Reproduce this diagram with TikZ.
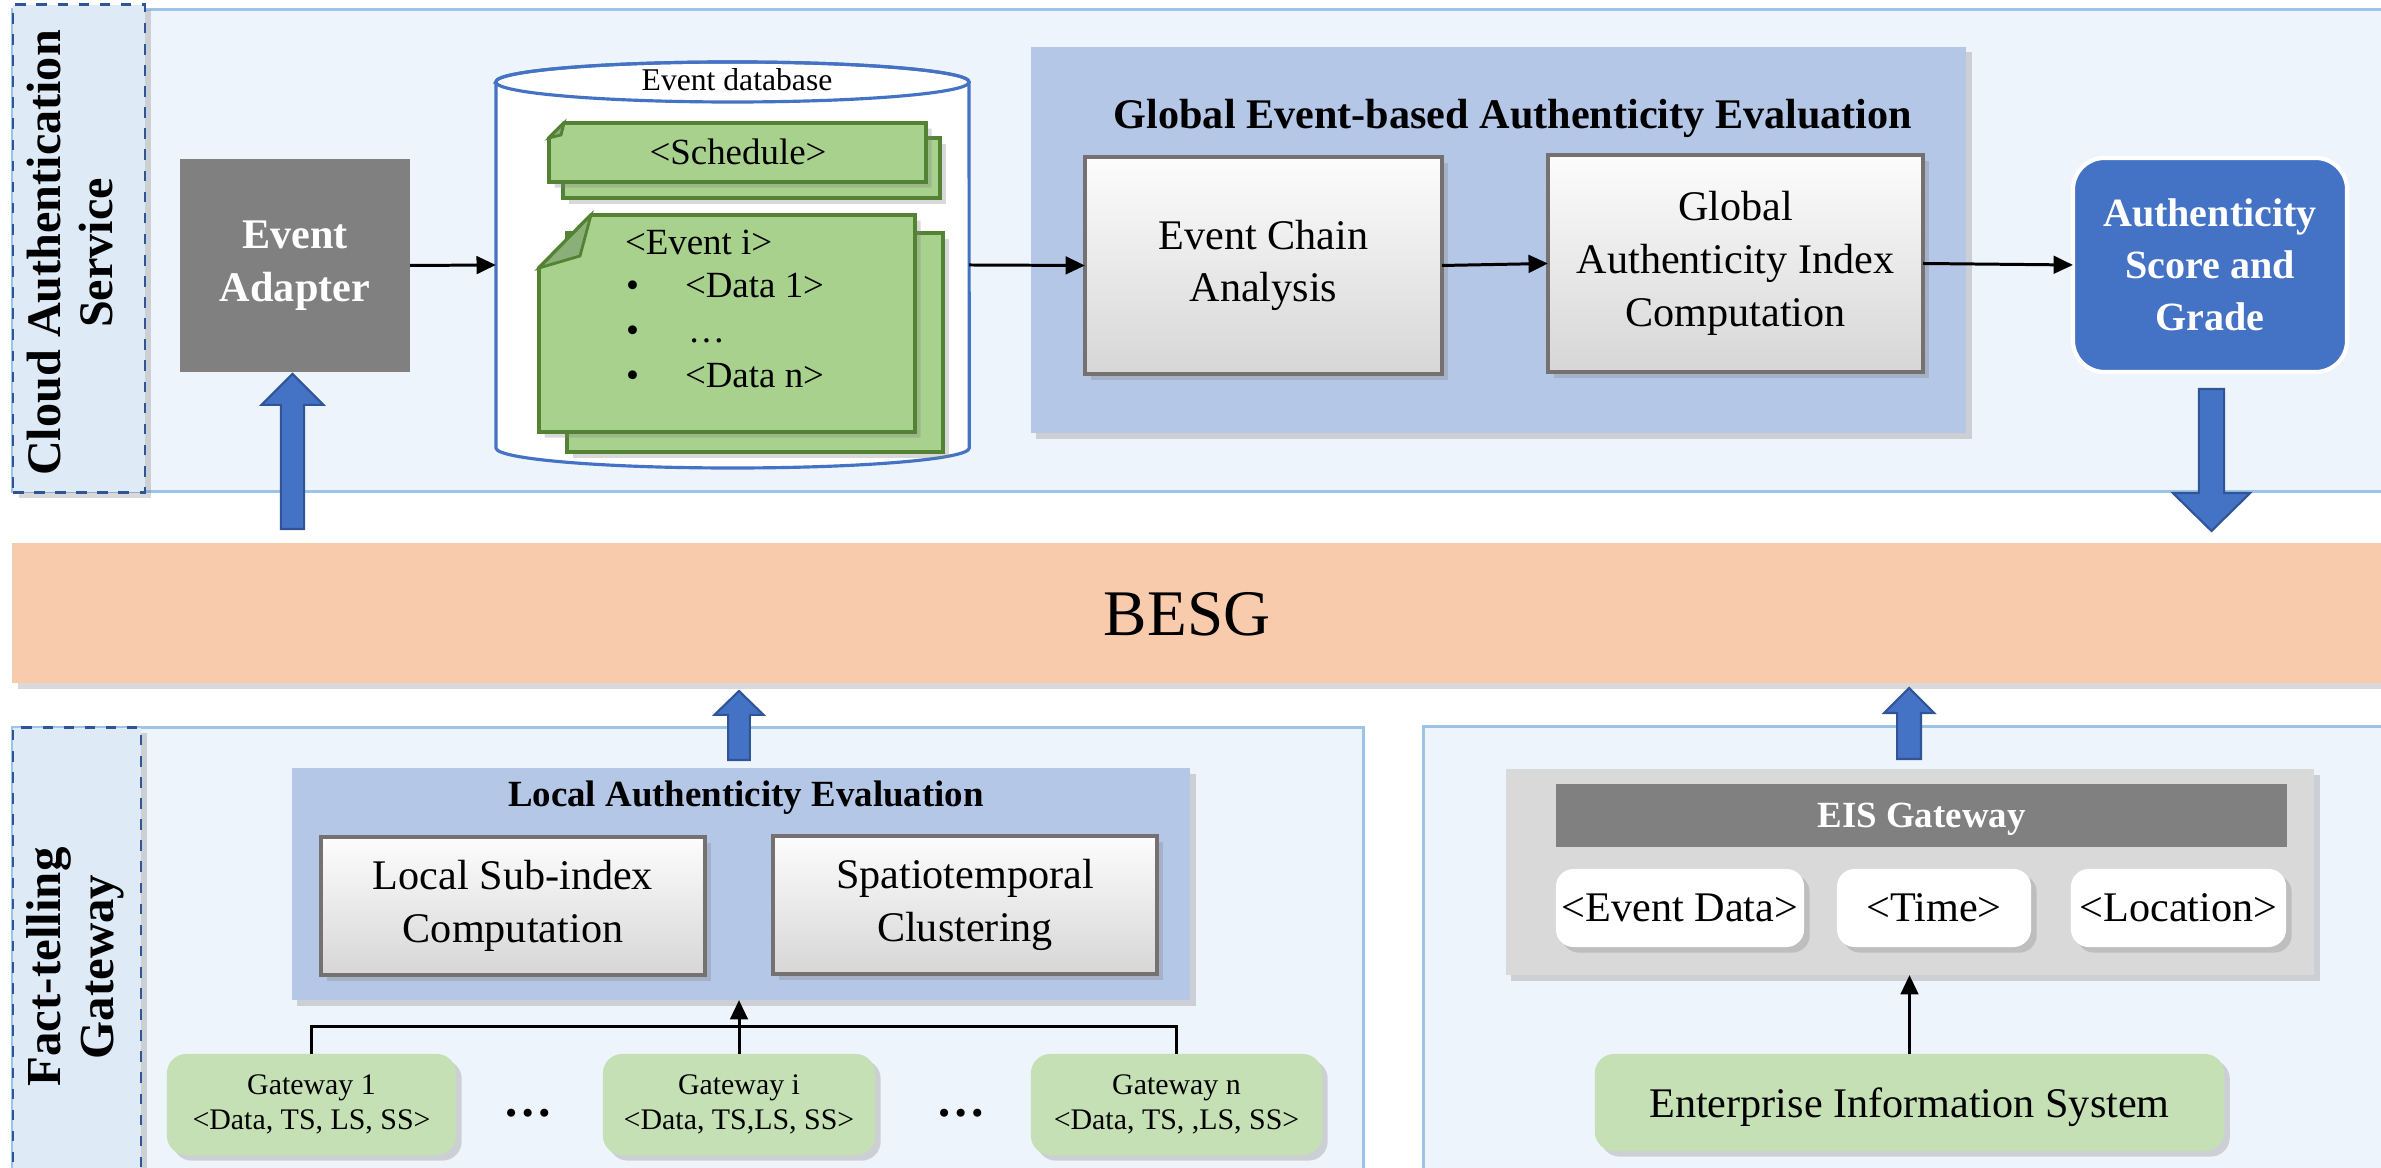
\documentclass[tikz,border=0pt]{standalone}
\usepackage{fontspec}
\setmainfont{Liberation Serif}
\usetikzlibrary{arrows.meta,shadows,calc}
\definecolor{panelfill}{HTML}{EEF4FB}
\definecolor{panelline}{HTML}{9DC3E6}
\definecolor{labelfill}{HTML}{DEEBF7}
\definecolor{labelline}{HTML}{2F5597}
\definecolor{adaptergray}{HTML}{808080}
\definecolor{dbline}{HTML}{4472C4}
\definecolor{docfill}{HTML}{A9D18E}
\definecolor{docline}{HTML}{548235}
\definecolor{docfold}{HTML}{8AAF78}
\definecolor{evalfill}{HTML}{B4C7E7}
\definecolor{scorefill}{HTML}{4472C4}
\definecolor{arrowline}{HTML}{2F5597}
\definecolor{besgfill}{HTML}{F8CBAD}
\definecolor{eisfill}{HTML}{D9D9D9}
\definecolor{greenfill}{HTML}{C5E0B4}
\definecolor{boxline}{HTML}{767171}
\newcommand\blockup[5]{%
  \draw[blockarr] let \p1=(#1), \p2=(#2) in
   (\x1-#3,\y2) -- (\x1-#3,\y1-#5) -- (\x1-#4,\y1-#5) -- (\x1,\y1) --
   (\x1+#4,\y1-#5) -- (\x1+#3,\y1-#5) -- (\x1+#3,\y2) -- cycle;}
\newcommand\blockdown[5]{%
  \draw[blockarr] let \p1=(#1), \p2=(#2) in
   (\x1-#3,\y2) -- (\x1-#3,\y1+#5) -- (\x1-#4,\y1+#5) -- (\x1,\y1) --
   (\x1+#4,\y1+#5) -- (\x1+#3,\y1+#5) -- (\x1+#3,\y2) -- cycle;}
\begin{document}
\begin{tikzpicture}[x=0.01cm,y=-0.01cm,
 every node/.style={inner sep=0pt,outer sep=0pt},
 shd/.style={drop shadow={opacity=0.3,shadow xshift=1.6pt,shadow yshift=-1.6pt}},
 panel/.style={rectangle,draw=panelline,line width=0.9pt,fill=panelfill},
 sidelabel/.style={rectangle,draw=labelline,dashed,line width=0.8pt,fill=labelfill,shd},
 sidetext/.style={rotate=90,align=center,font=\bfseries\fontsize{13.7}{14.8}\selectfont},
 graybox/.style={rectangle,fill=adaptergray,text=white,align=center,font=\bfseries\fontsize{12}{15}\selectfont},
 evalbox/.style={rectangle,fill=evalfill,shd},
 procbox/.style={rectangle,draw=boxline,line width=1.1pt,top color=black!1,bottom color=black!16,shd,align=center,font=\fontsize{12}{15}\selectfont},
 scorebox/.style={rectangle,rounded corners=9pt,fill=scorefill,draw=white,line width=1.2pt,text=white,align=center,font=\bfseries\fontsize{11.4}{14.8}\selectfont},
 band/.style={rectangle,fill=besgfill,shd},
 gwbox/.style={rectangle,rounded corners=5.5pt,fill=greenfill,shd,align=center,font=\fontsize{8.5}{10}\selectfont},
 whitebox/.style={rectangle,rounded corners=5pt,fill=white,shd,font=\fontsize{12}{15}\selectfont},
 doc/.style={draw=docline,line width=1.1pt,fill=docfill,shd,line join=miter},
 docfoldst/.style={draw=docline,line width=0.8pt,fill=docfold,line join=miter},
 doctext/.style={font=\fontsize{10.5}{12.8}\selectfont},
 arr/.style={line width=0.85pt,-{Triangle[length=5.5pt,width=5pt]}},
 bus/.style={line width=0.85pt},
 blockarr/.style={fill=scorefill,draw=arrowline,line width=0.6pt},
]
\useasboundingbox (0,0) rectangle (2381,1168);
\clip (0,0) rectangle (2381,1168);

% ---------- Cloud authentication service ----------
\node[panel,minimum width=23.87cm,minimum height=4.81cm] (toppanel) at (1206.5,250.5) {};
\node[sidelabel,minimum width=1.32cm,minimum height=4.87cm] (cloudlab) at (79,248.5) {};
\node[sidetext] (cloudtext) at (70,253) {Cloud Authentication\\Service};

\node[graybox,minimum width=2.30cm,minimum height=2.13cm] (adapter) at (295,265.5) {Event\\Adapter};

% event database cylinder
\node[minimum width=4.73cm,minimum height=3.66cm] (db) at (732.5,265) {};
\draw[draw=dbline,line width=0.9pt,fill=white] (496,82) -- (496,448)
  arc[start angle=180,end angle=360,x radius=2.365cm,y radius=0.2cm] -- (969,82)
  arc[start angle=0,end angle=180,x radius=2.365cm,y radius=0.2cm] -- cycle;
\draw[draw=dbline,line width=0.9pt] (732.5,82) ellipse[x radius=2.365cm,y radius=0.2cm];
\node[font=\fontsize{9}{11}\selectfont,anchor=base] (dbtitle) at (737,91) {Event database};

% schedule document
\draw[doc] (563,138) rectangle (940,198);
\draw[doc] (564,123) -- (926,123) -- (926,182) -- (549,182) -- (549,138) -- cycle;
\draw[docfoldst] (564,123) -- (561,135) -- (549,138) -- cycle;
\node[doctext] (sched) at (738,152) {<Schedule>};

% event document
\draw[doc] (567,233) rectangle (943,452);
\draw[doc] (591,215) -- (915,215) -- (915,432) -- (539,432) -- (539,268) -- cycle;
\draw[docfoldst] (591,215) -- (580,256) -- (539,268) -- cycle;
\node[doctext,anchor=base west] (evi) at (625,255) {<Event i>};
\node[doctext,anchor=base west] (b1) at (626,298) {•};
\node[doctext,anchor=base west] (d1) at (685,298) {<Data 1>};
\node[doctext,anchor=base west] (b2) at (626,343) {•};
\node[doctext,anchor=base west] (d2) at (688,343) {…};
\node[doctext,anchor=base west] (b3) at (626,388) {•};
\node[doctext,anchor=base west] (d3) at (685,388) {<Data n>};

% global evaluation
\node[evalbox,minimum width=9.35cm,minimum height=3.86cm] (glob) at (1498.5,240) {};
\node[font=\bfseries\fontsize{12}{15}\selectfont,anchor=base] (globtitle) at (1513,129) {Global Event-based Authenticity Evaluation};
\node[procbox,minimum width=3.57cm,minimum height=2.17cm] (echain) at (1263.5,265.5) {Event Chain\\Analysis};
\node[procbox,minimum width=3.75cm,minimum height=2.17cm] (gaic) at (1735.5,263.5) {Global\\Authenticity Index\\Computation};
\node[scorebox,minimum width=2.74cm,minimum height=2.14cm] (score) at (2210,265) {Authenticity\\Score and\\Grade};

\draw[arr] (adapter.east) -- (db.west);
\draw[arr] (db.east) -- (echain.west);
\draw[arr] (echain.east) -- (gaic.west);
\draw[arr] (gaic.east) -- (score.west);

% ---------- BESG ----------
\node[band,minimum width=23.87cm,minimum height=1.40cm] (besg) at (1206.5,613) {};
\node[font=\fontsize{18.5}{22}\selectfont] (besgtext) at (1187,614) {BESG};

% ---------- Fact-telling gateway ----------
\node[panel,minimum width=13.50cm,minimum height=4.72cm] (lpanel) at (688,964) {};
\node[sidelabel,minimum width=1.28cm,minimum height=4.80cm] (factlab) at (77,968) {};
\node[sidetext,font=\bfseries\fontsize{13.9}{15}\selectfont] (facttext) at (75,967) {Fact-telling\\Gateway};

\node[evalbox,minimum width=8.98cm,minimum height=2.32cm] (local) at (741,884) {};
\node[font=\bfseries\fontsize{10.5}{13}\selectfont,anchor=base] (localtitle) at (746,807) {Local Authenticity Evaluation};
\node[procbox,minimum width=3.84cm,minimum height=1.38cm] (lsub) at (513,906) {Local Sub-index\\Computation};
\node[procbox,minimum width=3.84cm,minimum height=1.38cm] (spat) at (965,905) {Spatiotemporal\\Clustering};

\node[gwbox,minimum width=2.89cm,minimum height=1.01cm] (g1) at (311.5,1104.5) {Gateway 1\\<Data, TS, LS, SS>};
\node[gwbox,minimum width=2.72cm,minimum height=1.01cm] (gi) at (739,1104.5) {Gateway i\\<Data, TS,LS, SS>};
\node[gwbox,minimum width=2.91cm,minimum height=1.01cm] (gn) at (1176.5,1104.5) {Gateway n\\<Data, TS, ,LS, SS>};
\node[font=\bfseries\fontsize{14}{16}\selectfont] (dots1) at (528,1113) {…};
\node[font=\bfseries\fontsize{14}{16}\selectfont] (dots2) at (961,1113) {…};

\coordinate (busy) at (0,1027);
\draw[bus] (g1.north) |- (busy -| gn.north) -- (gn.north);
\draw[arr] (gi.north) -- (gi.north |- local.south);

% ---------- EIS side ----------
\node[panel,minimum width=9.76cm,minimum height=4.73cm] (rpanel) at (1912,963.5) {};
\node[rectangle,fill=eisfill,shd,minimum width=8.08cm,minimum height=2.06cm] (eis) at (1910,872) {};
\node[rectangle,fill=adaptergray,text=white,font=\bfseries\fontsize{10.5}{13}\selectfont,text depth=0pt,minimum width=7.31cm,minimum height=0.63cm] (eisbar) at (1921.5,815.5) {EIS Gateway};
\node[whitebox,minimum width=2.48cm,minimum height=0.78cm] (ed) at (1680,908) {<Event Data>};
\node[whitebox,minimum width=1.94cm,minimum height=0.78cm] (tm) at (1934,908) {<Time>};
\node[whitebox,minimum width=2.15cm,minimum height=0.78cm] (loc) at (2178.5,908) {<Location>};
\node[gwbox,font=\fontsize{12}{15}\selectfont,text depth=0pt,minimum width=6.29cm,minimum height=0.97cm] (ent) at (1909.5,1102.5) {Enterprise Information System};
\draw[arr] (ent.north) -- (ent.north |- eis.south);

% ---------- block arrows ----------
\coordinate (t1) at (292.5,374); \coordinate (b1) at (292.5,529);
\coordinate (t2) at (2211.5,531); \coordinate (b2) at (2211.5,389);
\coordinate (t3) at (739,691); \coordinate (b3) at (739,760);
\coordinate (t4) at (1909,688); \coordinate (b4) at (1909,759);
\blockup{t1}{b1}{3.3pt}{8.8pt}{8.8pt}
\blockdown{t2}{b2}{3.6pt}{11pt}{10.8pt}
\blockup{t3}{b3}{3.1pt}{7pt}{6.8pt}
\blockup{t4}{b4}{3.4pt}{7.1pt}{7.1pt}
\end{tikzpicture}
\end{document}
